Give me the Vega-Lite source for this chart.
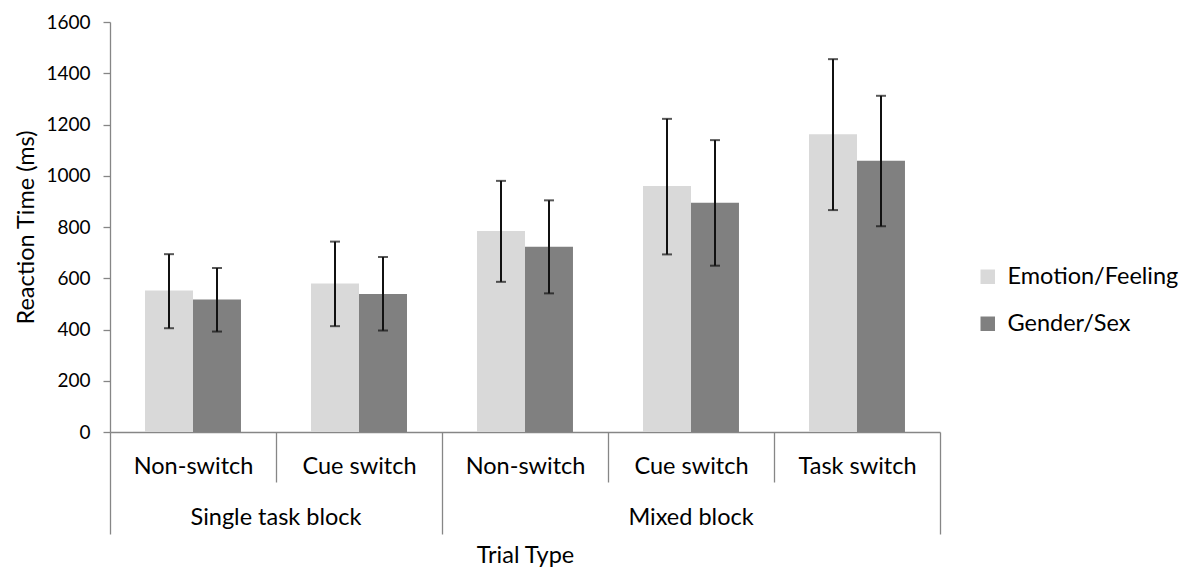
{
  "$schema": "https://vega.github.io/schema/vega-lite/v6.json",
  "autosize": {"type": "none"},
  "padding": {"left": 110, "top": 22, "right": 243, "bottom": 138},
  "width": 830,
  "height": 410,
  "background": "white",
  "config": {"view": {"stroke": null}, "font": "Lato"},
  "datasets": {
    "rt": [
      {"key": "S|Non-switch", "cond": "Emotion/Feeling", "rt": 552, "lo": 405, "hi": 694},
      {"key": "S|Non-switch", "cond": "Gender/Sex", "rt": 517, "lo": 392, "hi": 640},
      {"key": "S|Cue switch", "cond": "Emotion/Feeling", "rt": 580, "lo": 413, "hi": 743},
      {"key": "S|Cue switch", "cond": "Gender/Sex", "rt": 539, "lo": 396, "hi": 683},
      {"key": "M|Non-switch", "cond": "Emotion/Feeling", "rt": 784, "lo": 586, "hi": 980},
      {"key": "M|Non-switch", "cond": "Gender/Sex", "rt": 723, "lo": 541, "hi": 904},
      {"key": "M|Cue switch", "cond": "Emotion/Feeling", "rt": 960, "lo": 693, "hi": 1222},
      {"key": "M|Cue switch", "cond": "Gender/Sex", "rt": 895, "lo": 649, "hi": 1139},
      {"key": "M|Task switch", "cond": "Emotion/Feeling", "rt": 1162, "lo": 866, "hi": 1455},
      {"key": "M|Task switch", "cond": "Gender/Sex", "rt": 1059, "lo": 803, "hi": 1312}
    ],
    "blocks": [
      {"key": "S|Non-switch", "block": "Single task block"},
      {"key": "M|Cue switch", "block": "Mixed block"}
    ]
  },
  "layer": [
    {
      "data": {"name": "rt"},
      "mark": {"type": "bar"},
      "encoding": {
        "x": {
          "field": "key", "type": "nominal",
          "scale": {"domain": ["S|Non-switch", "S|Cue switch", "M|Non-switch", "M|Cue switch", "M|Task switch"], "paddingInner": 0, "paddingOuter": 0},
          "axis": {
            "title": "Trial Type",
            "labelExpr": "split(datum.value,'|')[1]",
            "labelAngle": 0,
            "tickBand": "extent",
            "tickSize": {"condition": {"test": "datum.extra || datum.value==='S|Cue switch' || datum.value==='M|Task switch'", "value": 102}, "value": 50},
            "labelPadding": {"condition": {"test": "datum.value==='S|Cue switch' || datum.value==='M|Task switch'", "value": -80}, "value": -28},
            "tickColor": "#868686",
            "tickWidth": 1.3,
            "domainColor": "#868686",
            "domainWidth": 1.3,
            "labelFont": "Lato",
            "labelFontSize": 23.5,
            "labelColor": "#000",
            "titleFont": "Lato",
            "titleFontSize": 23.5,
            "titleFontWeight": "normal",
            "titleColor": "#000",
            "titlePadding": 9
          }
        },
        "xOffset": {"field": "cond", "type": "nominal", "scale": {"domain": ["Emotion/Feeling", "Gender/Sex"], "paddingInner": 0, "paddingOuter": 0.73}},
        "y": {
          "field": "rt", "type": "quantitative",
          "scale": {"domain": [0, 1600], "nice": false},
          "axis": {
            "title": "Reaction Time (ms)",
            "values": [0, 200, 400, 600, 800, 1000, 1200, 1400, 1600],
            "format": "d",
            "grid": false,
            "tickSize": 7,
            "tickColor": "#868686",
            "tickWidth": 1.3,
            "domainColor": "#868686",
            "domainWidth": 1.3,
            "labelFont": "Lato",
            "labelFontSize": 19,
            "labelColor": "#000",
            "labelPadding": 13,
            "titleFont": "Lato",
            "titleFontSize": 23.5,
            "titleFontWeight": "normal",
            "titleColor": "#000",
            "titlePadding": 7
          }
        },
        "color": {
          "field": "cond", "type": "nominal",
          "scale": {"domain": ["Emotion/Feeling", "Gender/Sex"], "range": ["#d9d9d9", "#808080"]},
          "legend": {
            "title": null,
            "orient": "none",
            "legendX": 866,
            "legendY": 243,
            "symbolType": "square",
            "symbolSize": 210,
            "symbolStrokeWidth": 0,
            "labelFont": "Lato",
            "labelFontSize": 23.5,
            "labelColor": "#000",
            "labelOffset": 8,
            "labelLimit": 300,
            "rowPadding": 22
          }
        }
      }
    },
    {
      "data": {"name": "rt"},
      "mark": {"type": "rule", "color": "#111", "strokeWidth": 2},
      "encoding": {
        "x": {"field": "key", "type": "nominal"},
        "xOffset": {"field": "cond", "type": "nominal"},
        "y": {"field": "lo", "type": "quantitative"},
        "y2": {"field": "hi"}
      }
    },
    {
      "data": {"name": "rt"},
      "mark": {"type": "tick", "color": "#111", "size": 10, "thickness": 2},
      "encoding": {
        "x": {"field": "key", "type": "nominal"},
        "xOffset": {"field": "cond", "type": "nominal"},
        "y": {"field": "lo", "type": "quantitative"}
      }
    },
    {
      "data": {"name": "rt"},
      "mark": {"type": "tick", "color": "#111", "size": 10, "thickness": 2},
      "encoding": {
        "x": {"field": "key", "type": "nominal"},
        "xOffset": {"field": "cond", "type": "nominal"},
        "y": {"field": "hi", "type": "quantitative"}
      }
    },
    {
      "data": {"name": "blocks"},
      "transform": [{"filter": "datum.block === 'Single task block'"}],
      "mark": {"type": "text", "font": "Lato", "fontSize": 23.5, "color": "#000", "baseline": "middle", "dy": 86},
      "encoding": {
        "x": {"field": "key", "type": "nominal", "bandPosition": 1},
        "y": {"datum": 0, "type": "quantitative"},
        "text": {"field": "block"}
      }
    },
    {
      "data": {"name": "blocks"},
      "transform": [{"filter": "datum.block === 'Mixed block'"}],
      "mark": {"type": "text", "font": "Lato", "fontSize": 23.5, "color": "#000", "baseline": "middle", "dy": 86},
      "encoding": {
        "x": {"field": "key", "type": "nominal", "bandPosition": 0.5},
        "y": {"datum": 0, "type": "quantitative"},
        "text": {"field": "block"}
      }
    }
  ]
}
